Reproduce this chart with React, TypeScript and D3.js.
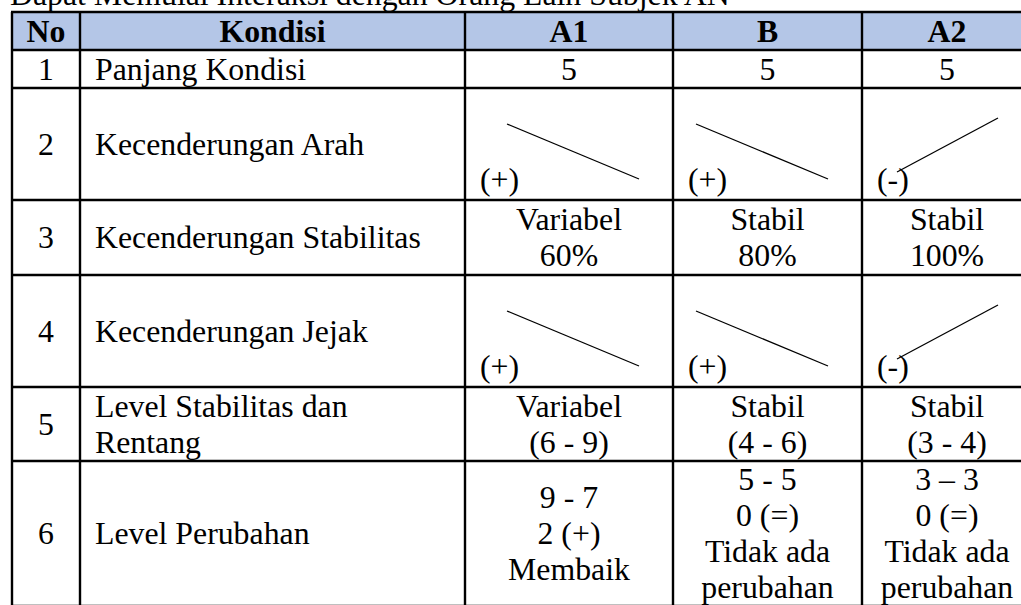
import * as React from 'react';
import * as d3 from 'd3';

const judul = 'Dapat Memulai Interaksi dengan Orang Lain Subjek AN';
const kolomJudul = ['No', 'Kondisi', 'A1', 'B', 'A2'];
const nomor = ['1', '2', '3', '4', '5', '6'];
const kondisi = [
	['Panjang Kondisi'],
	['Kecenderungan Arah'],
	['Kecenderungan Stabilitas'],
	['Kecenderungan Jejak'],
	['Level Stabilitas dan', 'Rentang'],
	['Level Perubahan']
];
const fase = ['A1', 'B', 'A2'];
const panjangKondisi = ['5', '5', '5'];
const arahGaris = ['turun', 'turun', 'naik'];
const arahTanda = ['(+)', '(+)', '(-)'];
const stabilitas = [
	['Variabel', '60%'],
	['Stabil', '80%'],
	['Stabil', '100%']
];
const jejakGaris = ['turun', 'turun', 'naik'];
const jejakTanda = ['(+)', '(+)', '(-)'];
const levelRentang = [
	['Variabel', '(6 - 9)'],
	['Stabil', '(4 - 6)'],
	['Stabil', '(3 - 4)']
];
const levelPerubahan = [
	['9 - 7', '2 (+)', 'Membaik'],
	['5 - 5', '0 (=)', 'Tidak ada', 'perubahan'],
	['3 – 3', '0 (=)', 'Tidak ada', 'perubahan']
];

// layout
const W = 1021;
const H = 605;
const colEdges = [12, 80, 465, 673, 862, 1032];
const rowEdges = [12, 50, 88, 200, 275, 387, 461, 606];
const fontSize = 31.8;
const lineH = 36;
const capH = 10.5;
const font = 'Liberation Serif, Times New Roman, serif';
const headerFill = '#b4c6e7';

const colLeft = d3.scaleOrdinal<string, number>().domain(kolomJudul).range(colEdges.slice(0, -1));
const colRight = d3.scaleOrdinal<string, number>().domain(kolomJudul).range(colEdges.slice(1));
const rowKeys = ['head', ...nomor];
const rowTop = d3.scaleOrdinal<string, number>().domain(rowKeys).range(rowEdges.slice(0, -1));
const rowBottom = d3.scaleOrdinal<string, number>().domain(rowKeys).range(rowEdges.slice(1));

const lineGen = d3.line<[number, number]>();

function Lines(props: { lines: string[]; x: number; row: string; anchor?: string; bold?: boolean }) {
	const mid = (rowTop(props.row) + rowBottom(props.row)) / 2;
	const first = mid + capH - ((props.lines.length - 1) * lineH) / 2;
	return (
		<text
			x={props.x}
			y={first}
			textAnchor={props.anchor || 'middle'}
			fontWeight={props.bold ? 'bold' : 'normal'}
		>
			{props.lines.map((l, i) => (
				<tspan key={i} x={props.x} y={first + i * lineH}>
					{l}
				</tspan>
			))}
		</text>
	);
}

// garis kecenderungan di dalam sel, ujung kanan menempel ke tepi kanan sel
function Trend(props: { col: string; row: string; dir: string; sign: string }) {
	const left = colLeft(props.col);
	const right = colRight(props.col);
	const top = rowTop(props.row);
	const bottom = rowBottom(props.row);
	const x = d3.scaleLinear().domain([0, 1]).range(props.dir === 'turun' ? [right - 166, right - 34] : [right - 135, right - 34]);
	const y = d3.scaleLinear().domain([0, 1]).range(props.dir === 'turun' ? [top + 36, top + 91] : [top + 84, top + 30]);
	const pts: [number, number][] = [
		[x(0), y(0)],
		[x(1), y(1)]
	];
	return (
		<g>
			<path d={lineGen(pts) || ''} stroke="#000" strokeWidth={1.3} fill="none" />
			<text x={left + 15} y={bottom - 10}>
				{props.sign}
			</text>
		</g>
	);
}

export default function App() {
	const cx = (k: string) => (colLeft(k) + colRight(k)) / 2;
	return (
		<svg
			width={W}
			height={H}
			viewBox={`0 0 ${W} ${H}`}
			style={{ position: 'absolute', left: 0, top: 0, background: '#fff' }}
			fontFamily={font}
			fontSize={fontSize}
			fill="#000"
		>
			<rect x={0} y={0} width={W} height={H} fill="#fff" />
			<text x={10} y={5}>
				{judul}
			</text>
			<rect
				x={colEdges[0]}
				y={rowEdges[0]}
				width={colEdges[colEdges.length - 1] - colEdges[0]}
				height={rowEdges[1] - rowEdges[0]}
				fill={headerFill}
			/>
			{kolomJudul.map((k) => (
				<Lines key={k} lines={[k]} x={cx(k)} row="head" bold />
			))}
			{nomor.map((n, i) => (
				<g key={n}>
					<Lines lines={[n]} x={cx('No')} row={n} />
					<Lines lines={kondisi[i]} x={colLeft('Kondisi') + 15} row={n} anchor="start" />
				</g>
			))}
			{fase.map((f, j) => (
				<g key={f}>
					<Lines lines={[panjangKondisi[j]]} x={cx(f)} row="1" />
					<Trend col={f} row="2" dir={arahGaris[j]} sign={arahTanda[j]} />
					<Lines lines={stabilitas[j]} x={cx(f)} row="3" />
					<Trend col={f} row="4" dir={jejakGaris[j]} sign={jejakTanda[j]} />
					<Lines lines={levelRentang[j]} x={cx(f)} row="5" />
					<Lines lines={levelPerubahan[j]} x={cx(f)} row="6" />
				</g>
			))}
			<g stroke="#000" strokeWidth={2.4}>
				{rowEdges.map((y, i) => (
					<line key={'h' + i} x1={colEdges[0] - 1} x2={colEdges[colEdges.length - 1]} y1={y} y2={y} />
				))}
				{colEdges.map((x, i) => (
					<line key={'v' + i} x1={x} x2={x} y1={rowEdges[0]} y2={rowEdges[rowEdges.length - 1]} />
				))}
			</g>
		</svg>
	);
}
